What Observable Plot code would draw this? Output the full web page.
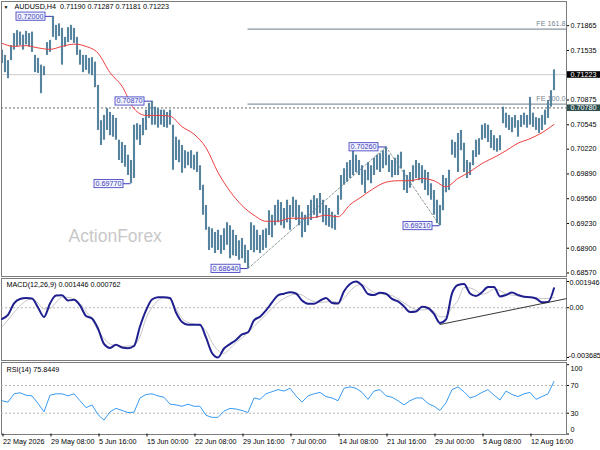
<!DOCTYPE html>
<html><head><meta charset="utf-8">
<script src="https://cdn.jsdelivr.net/npm/d3@7"></script>
<script src="https://cdn.jsdelivr.net/npm/@observablehq/plot@0.6"></script>
<style>
body{margin:0;background:#fff}
#chart{position:relative;width:600px;height:450px;overflow:hidden;background:#fff}
#chart svg{position:absolute;left:0}
</style></head><body><div id="chart"></div>
<script>
// ---------- data ----------
const symbolTitle = "AUDUSD,H4";
const lastOHLC = [0.71190, 0.71287, 0.71181, 0.71223];
const barStep = 2;   // one entry per 2 H4 bars
const barHigh = [0.7155,0.7148,0.7141,0.7161,0.7177,0.7181,0.7179,0.7175,0.7180,0.7177,0.7179,0.7148,0.7144,0.7135,0.7133,0.7165,0.7168,0.7200,0.7188,0.7190,0.7184,0.7172,0.7185,0.7188,0.7184,0.7172,0.7155,0.7148,0.7148,0.7144,0.7145,0.7139,0.7108,0.7061,0.7068,0.7077,0.7072,0.7068,0.7064,0.7035,0.7032,0.7028,0.7015,0.7008,0.7055,0.7057,0.7055,0.7064,0.7075,0.7084,0.7087,0.7079,0.7077,0.7075,0.7075,0.7072,0.7075,0.7055,0.7039,0.7035,0.7028,0.7021,0.7019,0.7021,0.7015,0.7019,0.7001,0.6975,0.6948,0.6919,0.6917,0.6912,0.6915,0.6908,0.6917,0.6925,0.6921,0.6915,0.6908,0.6901,0.6904,0.6895,0.6888,0.6925,0.6921,0.6915,0.6908,0.6915,0.6917,0.6941,0.6935,0.6948,0.6955,0.6952,0.6944,0.6955,0.6948,0.6959,0.6955,0.6948,0.6939,0.6935,0.6948,0.6955,0.6961,0.6957,0.6964,0.6955,0.6948,0.6944,0.6939,0.6935,0.6961,0.6988,0.6997,0.7005,0.7008,0.7025,0.7015,0.7008,0.7001,0.6995,0.7005,0.7001,0.7011,0.7015,0.7017,0.7021,0.7026,0.7015,0.7008,0.7011,0.7015,0.7019,0.6995,0.6988,0.6992,0.7001,0.7008,0.7004,0.7001,0.6995,0.6992,0.6977,0.6968,0.6955,0.6948,0.6988,0.6984,0.6995,0.7035,0.7032,0.7044,0.7048,0.7031,0.7008,0.7005,0.7021,0.7035,0.7037,0.7055,0.7057,0.7055,0.7048,0.7041,0.7037,0.7041,0.7079,0.7071,0.7068,0.7065,0.7068,0.7061,0.7068,0.7071,0.7068,0.7092,0.7071,0.7065,0.7064,0.7068,0.7075,0.7088,0.7101,0.71287];
const barLow = [0.7137,0.7125,0.7117,0.7141,0.7155,0.7159,0.7161,0.7155,0.7162,0.7159,0.7152,0.7125,0.7124,0.7097,0.7121,0.7148,0.7152,0.7172,0.7168,0.7173,0.7135,0.7159,0.7165,0.7168,0.7164,0.7148,0.7135,0.7125,0.7128,0.7123,0.7121,0.7105,0.7048,0.7028,0.7035,0.7048,0.7041,0.7039,0.7035,0.7008,0.7004,0.6999,0.6988,0.6977,0.6984,0.7035,0.7028,0.7041,0.7048,0.7064,0.7055,0.7055,0.7051,0.7055,0.7052,0.7051,0.7055,0.6995,0.7008,0.7005,0.6991,0.6997,0.7001,0.6997,0.6995,0.6992,0.6968,0.6935,0.6915,0.6888,0.6891,0.6884,0.6888,0.6883,0.6888,0.6895,0.6877,0.6881,0.6880,0.6875,0.6877,0.6871,0.6864,0.6888,0.6885,0.6888,0.6884,0.6888,0.6891,0.6908,0.6905,0.6921,0.6925,0.6921,0.6917,0.6925,0.6915,0.6932,0.6928,0.6921,0.6905,0.6912,0.6921,0.6928,0.6935,0.6931,0.6937,0.6925,0.6921,0.6919,0.6917,0.6915,0.6935,0.6955,0.6975,0.6979,0.6984,0.6988,0.6992,0.6988,0.6975,0.6964,0.6981,0.6977,0.6988,0.6995,0.6992,0.6997,0.7001,0.6992,0.6985,0.6988,0.6988,0.6997,0.6968,0.6964,0.6971,0.6979,0.6984,0.6981,0.6977,0.6968,0.6961,0.6955,0.6935,0.6924,0.6921,0.6941,0.6965,0.6968,0.7015,0.7011,0.6992,0.7021,0.6992,0.6984,0.6988,0.7001,0.7012,0.7015,0.7035,0.7037,0.7032,0.7024,0.7021,0.7019,0.7021,0.7057,0.7051,0.7048,0.7045,0.7051,0.7039,0.7052,0.7055,0.7051,0.7055,0.7052,0.7048,0.7044,0.7048,0.7055,0.7064,0.7079,0.7101];
const maStep = 8;
const maValues = [0.7164,0.7160,0.7161,0.7158,0.7156,0.7160,0.7163,0.7160,0.7151,0.7125,0.7107,0.7077,0.7068,0.7068,0.7067,0.7053,0.7043,0.7025,0.6992,0.6967,0.6948,0.6935,0.6927,0.6927,0.6931,0.6931,0.6932,0.6935,0.6933,0.6949,0.6960,0.6971,0.6979,0.6981,0.6981,0.6984,0.6981,0.6973,0.6984,0.6993,0.7004,0.7012,0.7021,0.7031,0.7037,0.7045,0.7056];
const oscStep = 4;
const macdValues = [-0.000830,-0.000534,0.000319,0.000652,0.000726,0.000689,0.000022,-0.000682,0.000319,0.000911,0.000926,0.000541,0.000593,0.000170,-0.000608,-0.000793,-0.001534,-0.002682,-0.002979,-0.002742,-0.002942,-0.002994,-0.002831,-0.001386,-0.000200,0.000615,0.000785,0.000785,0.000726,-0.000348,-0.001052,-0.001252,-0.001252,-0.001260,-0.002201,-0.003349,-0.003685,-0.003016,-0.002697,-0.002386,-0.001978,-0.001815,-0.000941,-0.000659,-0.000200,0.000393,0.000926,0.001045,0.001149,0.001060,0.000541,0.000304,0.000296,0.000526,0.000726,0.000356,0.000319,0.001223,0.001756,0.001946,0.001652,0.001023,0.000941,0.001119,0.001037,0.000652,0.000467,0.000096,-0.000311,-0.000274,0.000082,-0.000015,-0.000459,-0.001126,-0.000867,0.001060,0.001689,0.001764,0.001060,0.000874,0.001149,0.001541,0.001541,0.000837,0.000948,0.001134,0.000948,0.000815,0.000785,0.000689,0.000415,0.000430,0.001446];
const signalValues = [-0.001423,-0.000904,-0.000348,0.000133,0.000504,0.000652,0.000356,-0.000089,-0.000052,0.000393,0.000785,0.000763,0.000652,0.000319,-0.000274,-0.000867,-0.001682,-0.002275,-0.002682,-0.002794,-0.002868,-0.002831,-0.002794,-0.002127,-0.000793,0.000022,0.000541,0.000726,0.000615,-0.000052,-0.000793,-0.001089,-0.001200,-0.001349,-0.001682,-0.002571,-0.003164,-0.003386,-0.003016,-0.002571,-0.002238,-0.001830,-0.001386,-0.000941,-0.000496,-0.000052,0.000393,0.000689,0.000911,0.001023,0.000948,0.000652,0.000467,0.000393,0.000430,0.000489,0.000393,0.000689,0.001245,0.001615,0.001727,0.001430,0.001134,0.001037,0.000986,0.000911,0.000652,0.000356,0.000074,-0.000126,-0.000163,-0.000104,-0.000274,-0.000682,-0.000645,0.000022,0.000541,0.001504,0.001467,0.001282,0.000986,0.001134,0.001393,0.001282,0.001023,0.000934,0.000889,0.000837,0.000778,0.000741,0.000689,0.000689,0.000762];
const rsiValues = [48,46,58,59.5,56,55,44,32,56,58,58,55,58,48,38,42,28,20,32,37,34,31,31.4,52,57,58,55,53,43,42,40,43,40,40,27,24,24,33,37,36,34,31,52,50,58,61,64,62,66,55,46,55,58,60,54,52,48,66,68,66,60,50,62,64,55,53,48,42,48,52,52,44,40,34,45,64,68,61,52,55,60,64,56,49,62,57,54,58,60,50,54,58,75.8];
const macdLast = [0.001446, 0.000762];
const rsiLast = 75.8449;
const timeLabels = ["22 May 2026","29 May 08:00","5 Jun 16:00","15 Jun 00:00","22 Jun 08:00","29 Jun 16:00","7 Jul 00:00","14 Jul 08:00","21 Jul 16:00","29 Jul 00:00","5 Aug 08:00","12 Aug 16:00"];
const timeLabelStep = 32;
const priceTicks = [0.71865,0.71535,0.70875,0.70545,0.70220,0.69890,0.69560,0.69230,0.68900,0.68570];
const macdTicks = [0.001946, 0, -0.003685];
const rsiTicks = [100, 70, 30, 0];
const rsiLevels = [70, 30];
const swings = [
  {bar:34, price:0.72000},{bar:100, price:0.70870},{bar:86, price:0.69770},
  {bar:164, price:0.68640},{bar:256, price:0.70260},{bar:292, price:0.69210}];
const fePoints = [{bar:164, price:0.68640},{bar:256, price:0.70260},{bar:292, price:0.69210}];
const feRatios = [{name:"FE 161.8", ratio:1.618},{name:"FE 100.0", ratio:1.0}];
const hLinePrice = 0.70780;
const macdTrend = [{bar:292, value:-0.00124},{bar:376, value:0.00067}];

// ---------- derived tables ----------
const bars = barHigh.map((h,k)=>({bar:k*barStep, high:h, low:barLow[k]}));
const ma = maValues.map((v,k)=>({bar:k*maStep, value:v}));
const macd = macdValues.map((v,k)=>({bar:k*oscStep, value:v}));
const signal = signalValues.map((v,k)=>({bar:k*oscStep, value:v}));
const rsi = rsiValues.map((v,k)=>({bar:k*oscStep, value:v}));
const feRange = fePoints[1].price - fePoints[0].price;
const feLevels = feRatios.map(d=>({name:d.name, price:fePoints[2].price + d.ratio*feRange}));
const lastClose = lastOHLC[3];
const priceTags = [{price:lastClose, fill:"#000000"},{price:hLinePrice, fill:"#2f4f4f"}];
const timeTicks = timeLabels.map((_,i)=>i*timeLabelStep);

const xDomain = [-1/3, 376 + 1/3];
const FONT = '"Liberation Sans", Arial, sans-serif';
const baseStyle = {fontFamily: FONT, fontSize: "7.2px", background: "transparent", overflow: "visible"};
const frameColor = "#7c7c7c";
const container = document.getElementById("chart");

// ---------- main price panel ----------
const mainPlot = Plot.plot({
  width: 600, height: 277, marginLeft: 1, marginRight: 34, marginTop: 1, marginBottom: 1,
  style: baseStyle,
  x: {domain: xDomain, axis: null, label: null},
  y: {domain: [0.68534, 0.72198], label: null},
  marks: [
    Plot.text(["ActionForex"], {frameAnchor:"top-left", dx:67, dy:228, lineAnchor:"top", fontSize:17.5, fill:"#c8c8c8"}),
    Plot.ruleY([lastClose], {stroke:"#cdcdcd", strokeWidth:1}),
    Plot.ruleY(feLevels, {y:"price", x1: fePoints[0].bar, x2: xDomain[1], stroke:"#8796a0", strokeWidth:1.2}),
    Plot.text(feLevels, {y:"price", text:"name", frameAnchor:"right", textAnchor:"end", dx:-1, dy:-5, fill:"#75838f"}),
    Plot.ruleY([hLinePrice], {stroke:"#444", strokeDasharray:"2,2", strokeWidth:0.8}),
    Plot.line(fePoints, {x:"bar", y:"price", stroke:"#8a9a9a", strokeDasharray:"2,2", strokeWidth:1}),
    Plot.ruleX(bars, {x:"bar", y1:"low", y2:"high", stroke:"#56839e", strokeWidth:2.1}),
    Plot.line(ma, {x:"bar", y:"value", stroke:"#ee4242", strokeWidth:1, curve:"monotone-x"}),
    Plot.ruleY(swings, {y:"price", x1: d=>d.bar-5, x2:"bar", stroke:"#3c3cb4", strokeWidth:1}),
    Plot.text(swings, {x: d=>d.bar-5, y:"price", text: d=>d.price.toFixed(5), textAnchor:"end", dx:-2, fill:"#3d3db8"}),
    Plot.frame({stroke: frameColor}),
    Plot.axisY(priceTicks, {anchor:"right", tickSize:2, tickPadding:2, dy:-0.8, tickFormat: d=>d.toFixed(5), label:null}),
    Plot.text(priceTags, {y:"price", text: d=>d.price.toFixed(5), frameAnchor:"right", textAnchor:"start", dx:4, fill:"#ffffff"}),
    Plot.text([`${symbolTitle}  ${lastOHLC.map(v=>v.toFixed(5)).join(" ")}`], {frameAnchor:"top-left", dx:13, dy:2.6, lineAnchor:"top", fill:"#000"}),
    Plot.text(["▼"], {frameAnchor:"top-left", dx:2, dy:3.5, lineAnchor:"top", fontSize:5, fill:"#000"})
  ]
});
mainPlot.style.top = "0px";
container.appendChild(mainPlot);

// ---------- MACD panel ----------
const macdPlot = Plot.plot({
  width: 600, height: 84, marginLeft: 1, marginRight: 34, marginTop: 4, marginBottom: 4,
  style: baseStyle,
  x: {domain: xDomain, axis: null, label: null},
  y: {domain: [macdTicks[2], macdTicks[0]], label: null},
  marks: [
    Plot.frame({stroke: frameColor, insetTop:-3, insetBottom:-3}),
    Plot.ruleY([0], {stroke:"#b4b4b4", strokeDasharray:"2,2"}),
    Plot.line(signal, {x:"bar", y:"value", stroke:"#c6c6c6", strokeWidth:1, curve:"monotone-x"}),
    Plot.line(macd, {x:"bar", y:"value", stroke:"#1f1f8f", strokeWidth:2, curve:"monotone-x"}),
    Plot.line(macdTrend, {x:"bar", y:"value", stroke:"#222", strokeWidth:0.9}),
    Plot.axisY(macdTicks, {anchor:"right", tickSize:2, tickFormat: () => "", label:null}),
    Plot.text([macdTicks[0]], {y: d=>d, text: d=>d.toFixed(6), frameAnchor:"right", textAnchor:"start", dx:3, dy:1}),
    Plot.text([macdTicks[1]], {y: d=>d, text: () => "0.00", frameAnchor:"right", textAnchor:"start", dx:3}),
    Plot.text([macdTicks[2]], {y: d=>d, text: d=>d.toFixed(6), frameAnchor:"right", textAnchor:"start", dx:2, dy:-2}),
    Plot.text([`MACD(12,26,9) ${macdLast[0].toFixed(6)} ${macdLast[1].toFixed(6)}`], {frameAnchor:"top-left", dx:5, dy:0.8, lineAnchor:"top", fill:"#000"})
  ]
});
macdPlot.style.top = "277px";
container.appendChild(macdPlot);

// ---------- RSI panel ----------
const rsiPlot = Plot.plot({
  width: 600, height: 89, marginLeft: 1, marginRight: 34, marginTop: 3.2, marginBottom: 16.5,
  style: baseStyle,
  x: {domain: xDomain, label: null},
  y: {domain: [0, 100], label: null},
  marks: [
    Plot.frame({stroke: frameColor, insetTop:-2.2, insetBottom:-0.5}),
    Plot.ruleY(rsiLevels, {stroke:"#b4b4b4", strokeDasharray:"2,2"}),
    Plot.line(rsi, {x:"bar", y:"value", stroke:"#3a9cf2", strokeWidth:1}),
    Plot.axisY(rsiTicks, {anchor:"right", tickSize:2, tickFormat: () => "", label:null}),
    Plot.text([rsiTicks[0]], {y: d=>d, text: d=>String(d), frameAnchor:"right", textAnchor:"start", dx:4, dy:3.5}),
    Plot.text(rsiLevels, {y: d=>d, text: d=>String(d), frameAnchor:"right", textAnchor:"start", dx:4}),
    Plot.text([rsiTicks[3]], {y: d=>d, text: d=>String(d), frameAnchor:"right", textAnchor:"start", dx:4, dy:-4.5}),
    Plot.axisX(timeTicks, {anchor:"bottom", tickSize:3, tickPadding:2, textAnchor:"start", dx:1, tickFormat: d => timeLabels[Math.round(d/timeLabelStep)], label:null}),
    Plot.text([`RSI(14) ${rsiLast}`], {frameAnchor:"top-left", dx:5, dy:2.5, lineAnchor:"top", fill:"#000"})
  ]
});
rsiPlot.style.top = "361px";
container.appendChild(rsiPlot);

// ---------- label boxes (styling only) ----------
function boxTexts(svg, match, opts) {
  svg.querySelectorAll("text").forEach(t => {
    const s = t.textContent;
    if (!match(s)) return;
    const b = t.getBBox();
    const r = document.createElementNS("http://www.w3.org/2000/svg", "rect");
    const x0 = b.x - opts.padL;
    const w = opts.fullWidth ? 60 : b.width + opts.padL + opts.padR;
    r.setAttribute("x", x0);
    r.setAttribute("y", b.y + opts.padY);
    r.setAttribute("width", w);
    r.setAttribute("height", b.height - 2*opts.padY);
    r.setAttribute("fill", typeof opts.fill === "function" ? opts.fill(s) : opts.fill);
    if (opts.stroke) { r.setAttribute("stroke", opts.stroke); r.setAttribute("stroke-width", 0.9); }
    const tr = t.getAttribute("transform"); if (tr) r.setAttribute("transform", tr);
    t.parentNode.insertBefore(r, t);
  });
}
const swingTexts = swings.map(d=>d.price.toFixed(5));
boxTexts(mainPlot, s => swingTexts.includes(s), {padL:1.5, padR:1.5, padY:0.4, fill:"#f2f2ff", stroke:"#4b4bc6"});
const tagMap = new Map(priceTags.map(d=>[d.price.toFixed(5), d.fill]));
boxTexts(mainPlot, s => tagMap.has(s), {padL:3.5, padR:0, padY:1.2, fullWidth:true, fill: s => tagMap.get(s)});
</script>
</body></html>
